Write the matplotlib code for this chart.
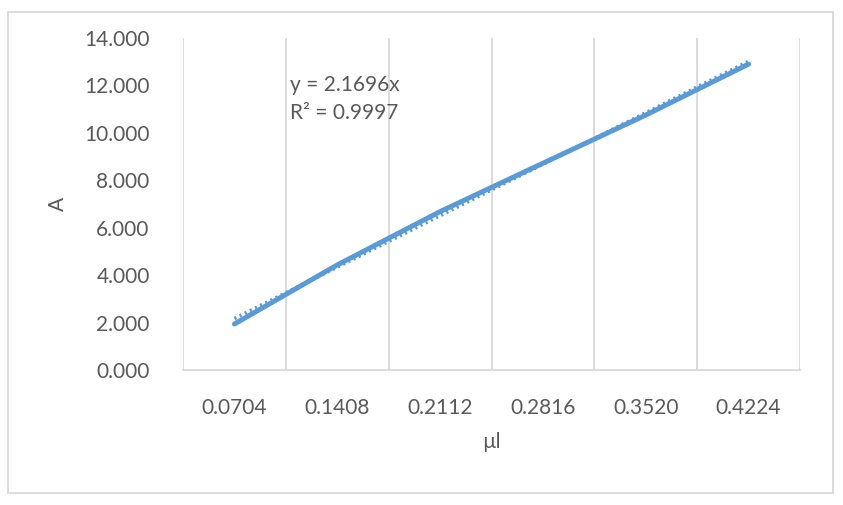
import matplotlib.pyplot as plt
from matplotlib.patches import Rectangle

# data (Excel line chart, category axis)
categories = ["0.0704", "0.1408", "0.2112", "0.2816", "0.3520", "0.4224"]
absorbance = [1.94, 4.43, 6.68, 8.72, 10.75, 12.90]
slope = 2.1696
r2 = 0.9997

blue = "#5B9BD5"
grey_txt = "#595959"
grid_c = "#D9D9D9"

plt.rcParams["font.family"] = ["Lato", "DejaVu Sans"]

fig = plt.figure(figsize=(8.43, 5.05), dpi=100)
ax = fig.add_axes([183 / 843, 1 - 370 / 505, (800 - 183) / 843, (370 - 38) / 505])

x = list(range(1, len(categories) + 1))
ax.plot(x, absorbance, color=blue, lw=3.6, solid_capstyle="round", zorder=3)
trend = [slope * v for v in x]
ax.plot(x, trend, color=blue, lw=2.6, ls=(0, (0.6, 1.0)), zorder=2)

ax.set_xlim(0.5, len(categories) + 0.5)
ax.set_ylim(0, 14)
ax.set_yticks([0, 2, 4, 6, 8, 10, 12, 14])
ax.set_yticklabels([f"{v:.3f}" for v in range(0, 15, 2)])
ax.set_xticks(x)
ax.set_xticklabels(categories)
ax.set_xticks([v + 0.5 for v in range(0, len(categories) + 1)], minor=True)
ax.grid(True, which="minor", axis="x", color=grid_c, lw=1.3)
ax.tick_params(which="both", length=0)
ax.tick_params(axis="x", pad=20, labelsize=15, colors=grey_txt)
ax.tick_params(axis="y", pad=24, labelsize=15, colors=grey_txt)
for s in ["top", "right", "left"]:
    ax.spines[s].set_visible(False)
ax.spines["bottom"].set_color(grid_c)
ax.spines["bottom"].set_linewidth(1.3)

ax.set_xlabel("µl", fontsize=15, color=grey_txt, labelpad=10)
ax.set_ylabel("A", fontsize=15, color=grey_txt, labelpad=12)

fig.text(290 / 843, 1 - 85 / 505, f"y = {slope}x", fontsize=15, color=grey_txt, va="center")
fig.text(290 / 843, 1 - 113 / 505, f"R² = {r2}", fontsize=15, color=grey_txt, va="center")

fig.patches.append(Rectangle((8 / 843, 12 / 505), 825 / 843, 481 / 505, transform=fig.transFigure,
                             fill=False, edgecolor=grid_c, lw=1.3))

fig.savefig("out.png", dpi=100)
